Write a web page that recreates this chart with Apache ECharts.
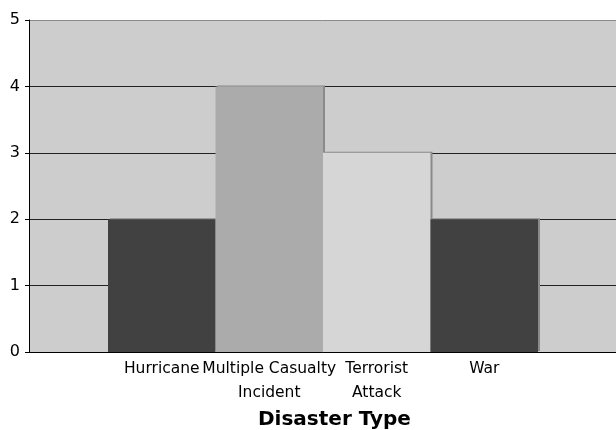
<!DOCTYPE html>
<html>
<head>
<meta charset="utf-8">
<script src="https://cdn.jsdelivr.net/npm/echarts@6/dist/echarts.min.js"></script>
<style>
  html, body { margin: 0; padding: 0; background: #ffffff; }
  #chart { width: 616px; height: 430px; }
</style>
</head>
<body>
<div id="chart"></div>
<script>
// Incident counts by disaster type
const categories = ['Hurricane', 'Multiple Casualty\nIncident', 'Terrorist\nAttack', 'War'];
const counts = [2, 4, 3, 2];
const yTicks = [0, 1, 2, 3, 4, 5];

const barColors = ['#414141', '#ababab', '#d6d6d6', '#414141'];
const font = "'DejaVu Sans', Verdana, sans-serif";

const chart = echarts.init(document.getElementById('chart'), null, { renderer: 'canvas' });

chart.setOption({
  animation: false,
  backgroundColor: '#ffffff',
  title: {
    text: 'Disaster Type',
    left: 258, top: 410, padding: 0,
    textStyle: { fontFamily: font, fontWeight: 'bold', fontSize: 20, color: '#000' }
  },
  grid: [
    // full plot area: background, value axis and gridlines
    { left: 29, right: 0, top: 20, bottom: 78, show: true,
      backgroundColor: '#cdcdcd', borderWidth: 0 },
    // band holding the bars
    { left: 108, right: 78, top: 20, bottom: 78 }
  ],
  xAxis: [
    { gridIndex: 0, type: 'value', min: 0, max: 1,
      axisLine: { show: true, onZero: false, lineStyle: { color: '#000', width: 1 } },
      axisTick: { show: false }, axisLabel: { show: false }, splitLine: { show: false } },
    { gridIndex: 1, type: 'category', data: categories,
      axisLine: { show: false }, axisTick: { show: false },
      axisLabel: { color: '#000', fontFamily: font, fontSize: 15.5, lineHeight: 24,
                   margin: 5, interval: 0 } }
  ],
  yAxis: [
    { gridIndex: 0, type: 'value', min: yTicks[0], max: yTicks[yTicks.length - 1], interval: 1,
      axisLine: { show: true, lineStyle: { color: '#000', width: 1 } },
      axisTick: { show: true, inside: false, length: 4, lineStyle: { color: '#000' } },
      axisLabel: { color: '#000', fontFamily: font, fontSize: 16, margin: 9 },
      splitLine: { show: true,
                   lineStyle: { color: ['#222', '#222', '#222', '#222', '#222', '#8a8a8a'], width: 1 } } },
    { gridIndex: 1, type: 'value', min: yTicks[0], max: yTicks[yTicks.length - 1], show: false }
  ],
  series: [{
    type: 'bar',
    xAxisIndex: 1,
    yAxisIndex: 1,
    data: counts,
    barCategoryGap: 0,
    barWidth: '100%',
    itemStyle: {
      color: (p) => barColors[p.dataIndex],
      shadowColor: '#8a8a8a',
      shadowOffsetX: 2,
      shadowOffsetY: -1,
      shadowBlur: 0
    }
  }]
});
</script>
</body>
</html>
